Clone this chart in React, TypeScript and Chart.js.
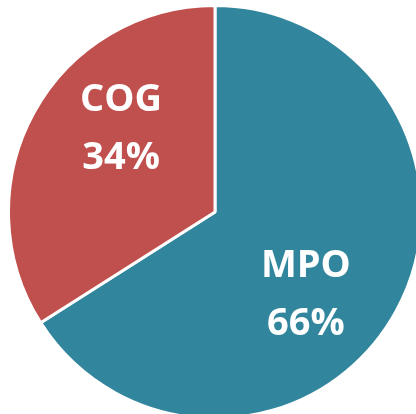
import React, { useEffect, useRef } from "react";
import { Chart, registerables } from "chart.js";

Chart.register(...registerables);

const categories = ["MPO", "COG"];
const values = [66, 34];
const colors = ["#31859C", "#C0504D"];
// label anchor as fractions of the radius from the pie centre (layout only)
const labelOffsets = [
  [0.44, 0.405],
  [-0.455, -0.4],
];

const labelPlugin = {
  id: "sliceLabels",
  afterDatasetsDraw(chart: any) {
    const ctx = chart.ctx;
    const meta = chart.getDatasetMeta(0);
    const ds = chart.data.datasets[0];
    const total = ds.data.reduce((a: number, b: number) => a + b, 0);
    ctx.save();
    ctx.fillStyle = "#FFFFFF";
    ctx.font = "bold 38px 'Open Sans'";
    ctx.textAlign = "center";
    ctx.textBaseline = "middle";
    meta.data.forEach((arc: any, i: number) => {
      const r = arc.outerRadius;
      const x = arc.x + labelOffsets[i][0] * r;
      const y = arc.y + labelOffsets[i][1] * r;
      const pct = Math.round((ds.data[i] / total) * 100) + "%";
      ctx.fillText(chart.data.labels[i], x, y - 29);
      ctx.fillText(pct, x, y + 29);
    });
    ctx.restore();
  },
};

export default function App() {
  const ref = useRef<HTMLCanvasElement>(null);
  useEffect(() => {
    const chart = new Chart(ref.current!, {
      type: "pie",
      data: {
        labels: categories,
        datasets: [
          {
            data: values,
            backgroundColor: colors,
            borderColor: "#FFFFFF",
            borderWidth: 3,
          },
        ],
      },
      options: {
        responsive: false,
        animation: false,
        layout: { padding: 0 },
        plugins: {
          legend: { display: false },
          tooltip: { enabled: false },
        },
      },
      plugins: [labelPlugin],
    });
    return () => chart.destroy();
  }, []);
  return (
    <div
      style={{
        position: "fixed",
        left: 0,
        top: 0,
        width: 416,
        height: 414,
        overflow: "hidden",
        background: "#FFFFFF",
      }}
    >
      <canvas
        ref={ref}
        width={416}
        height={416}
        style={{ position: "absolute", left: 7, top: 4, width: 416, height: 416 }}
      />
    </div>
  );
}
